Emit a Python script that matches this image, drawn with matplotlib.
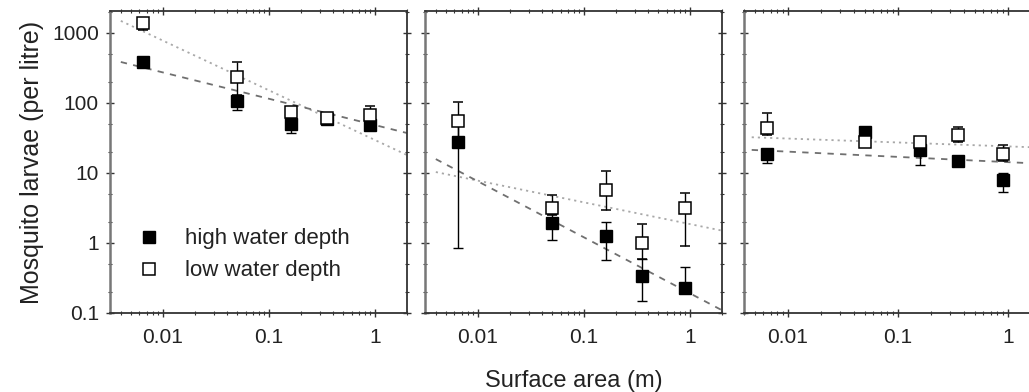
import numpy as np
import matplotlib
matplotlib.use("Agg")
import matplotlib.pyplot as plt
from matplotlib.lines import Line2D
from matplotlib.ticker import LogLocator, FixedLocator, FixedFormatter, NullFormatter

plt.rcParams['font.family'] = ['Liberation Sans', 'DejaVu Sans']

# ---- data ----
area = [0.0065, 0.05, 0.16, 0.35, 0.9]

# panel 1
p1_high = [380, 105, 50, 60, 48]
p1_high_lo = [330, 80, 37, 55, 44]
p1_high_hi = [430, 125, 60, 66, 53]
p1_low = [1400, 235, 75, 62, 68]
p1_low_lo = [1100, 130, 62, 56, 56]
p1_low_hi = [1600, 390, 86, 68, 90]

# panel 2
p2_high = [28, 1.9, 1.25, 0.34, 0.23]
p2_high_lo = [0.85, 1.1, 0.57, 0.15, 0.23]
p2_high_hi = [50, 2.6, 2.0, 0.6, 0.45]
p2_low = [55, 3.2, 5.7, 1.0, 3.2]
p2_low_lo = [30, 2.5, 3.0, 0.6, 0.9]
p2_low_hi = [103, 4.9, 10.7, 1.87, 5.2]

# panel 3
p3_high = [18.5, 38, 21, 15, 8]
p3_high_lo = [14, 33, 13, 13, 5.4]
p3_high_hi = [22, 43, 26, 17, 10]
p3_low = [44, 28, 28, 35, 18.5]
p3_low_lo = [35, 24, 24, 28, 15]
p3_low_hi = [72, 33, 32, 46, 25]

# fitted log-log regression lines: log10(y) = a + b*log10(x)
fit_high_a = [1.684, -0.72, 1.155]
fit_high_b = [-0.376, -0.80, -0.075]
fit_low_a = [1.47, 0.27, 1.38]
fit_low_b = [-0.71, -0.31, -0.056]
fit_x_start = [0.004, 0.004, 0.0047]
fit_x_end = 2.0

x_limits = [(10 ** -2.5, 2.0), (10 ** -2.5, 2.0), (0.004, 2.0)]
y_limits = (0.1, 2060)

xtick_vals = [0.01, 0.1, 1]
xtick_labels = ['0.01', '0.1', '1']
ytick_vals = [0.1, 1, 10, 100, 1000]
ytick_labels = ['0.1', '1', '10', '100', '1000']

legend_labels = ['high water depth', 'low water depth']

high_series = [(p1_high, p1_high_lo, p1_high_hi), (p2_high, p2_high_lo, p2_high_hi),
               (p3_high, p3_high_lo, p3_high_hi)]
low_series = [(p1_low, p1_low_lo, p1_low_hi), (p2_low, p2_low_lo, p2_low_hi),
              (p3_low, p3_low_lo, p3_low_hi)]

# ---- figure ----
W, H = 1029, 392
fig = plt.figure(figsize=(W / 100, H / 100), dpi=100)

lefts = [110, 425, 744]
bottom_px, top_px = 313, 11
width_px = 297

spine_col = '#333333'
text_col = '#222222'
for i in range(3):
    ax = fig.add_axes([lefts[i] / W, (H - bottom_px) / H, width_px / W, (bottom_px - top_px) / H])
    ax.set_xscale('log')
    ax.set_yscale('log')
    ax.set_xlim(*x_limits[i])
    ax.set_ylim(*y_limits)

    # fit lines
    xf = np.logspace(np.log10(fit_x_start[i]), np.log10(fit_x_end), 50)
    ax.plot(xf, 10 ** (fit_low_a[i] + fit_low_b[i] * np.log10(xf)), linestyle=(0, (1.2, 2.2)),
            color='#a8a8a8', lw=1.3, zorder=1)
    ax.plot(xf, 10 ** (fit_high_a[i] + fit_high_b[i] * np.log10(xf)), linestyle=(0, (3.5, 3.5)),
            color='#707070', lw=1.3, zorder=1)

    hv, hlo, hhi = [np.array(v, float) for v in high_series[i]]
    lv, llo, lhi = [np.array(v, float) for v in low_series[i]]
    ax.errorbar(area, hv, yerr=[hv - hlo, hhi - hv], fmt='s', ms=9, mfc='black', mec='black',
                ecolor='black', elinewidth=1.0, capsize=3.5, capthick=1.0, zorder=3)
    ax.errorbar(area, lv, yerr=[lv - llo, lhi - lv], fmt='s', ms=9, mfc='white', mec='black',
                mew=1.1, ecolor='black', elinewidth=1.0, capsize=3.5, capthick=1.0, zorder=4)

    ax.xaxis.set_major_locator(FixedLocator(xtick_vals))
    ax.xaxis.set_major_formatter(FixedFormatter(xtick_labels))
    ax.xaxis.set_minor_locator(LogLocator(base=10, subs=np.arange(2, 10)))
    ax.xaxis.set_minor_formatter(NullFormatter())
    ax.yaxis.set_major_locator(FixedLocator(ytick_vals))
    ax.yaxis.set_minor_locator(LogLocator(base=10, subs=(2, 5)))
    ax.yaxis.set_minor_formatter(NullFormatter())
    if i == 0:
        ax.yaxis.set_major_formatter(FixedFormatter(ytick_labels))
    else:
        ax.yaxis.set_major_formatter(NullFormatter())

    ax.tick_params(which='both', direction='inout', top=True, right=True, colors=spine_col,
                   labelcolor=text_col, labelsize=15)
    ax.tick_params(which='major', length=6, width=1.0)
    ax.tick_params(axis='x', which='major', pad=8)
    ax.tick_params(axis='y', which='major', pad=5)
    ax.tick_params(which='minor', length=3.5, width=0.8)
    for s in ax.spines.values():
        s.set_color(spine_col)
        s.set_linewidth(1.3)
    ax.spines['left'].set_color('#777777')
    ax.spines['left'].set_linewidth(1.8)

    if i == 0:
        ax.set_ylabel('Mosquito larvae (per litre)', fontsize=18, color=text_col, labelpad=6)
        handles = [Line2D([], [], ls='none', marker='s', ms=9, mfc='black', mec='black'),
                   Line2D([], [], ls='none', marker='s', ms=9, mfc='white', mec='black', mew=1.1)]
        leg = ax.legend(handles, legend_labels, loc='lower left', bbox_to_anchor=(0.064, 0.075),
                        frameon=False, fontsize=16, handletextpad=1.1, labelspacing=0.5,
                        handlelength=1.0, borderaxespad=0.0)
        for t in leg.get_texts():
            t.set_color(text_col)
    if i == 1:
        ax.set_xlabel('Surface area (m)', fontsize=17, color=text_col, labelpad=16)

fig.savefig('out.png', dpi=100)
